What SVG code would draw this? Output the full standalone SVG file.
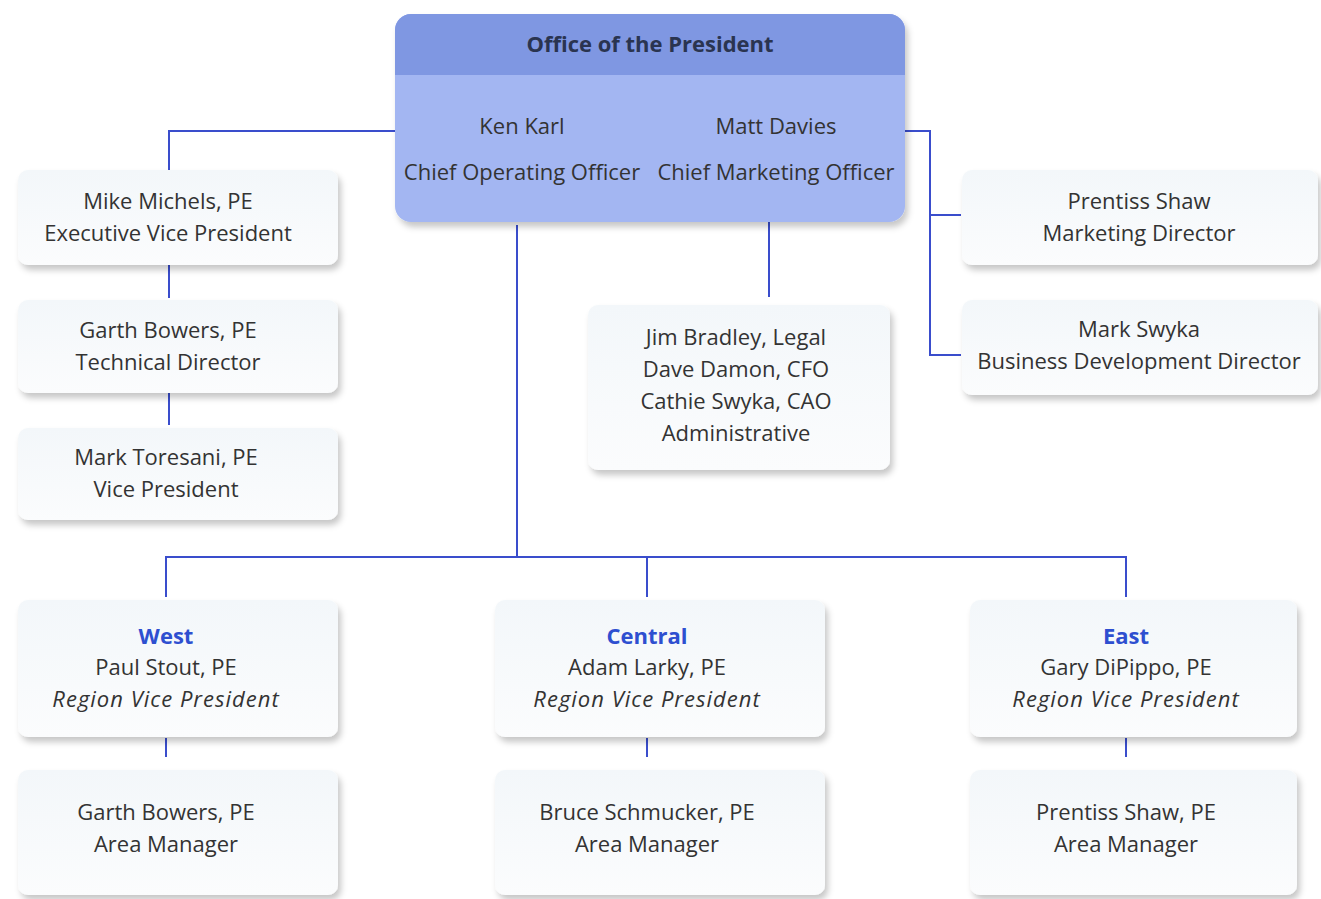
<svg xmlns="http://www.w3.org/2000/svg" width="1321" height="899" viewBox="0 0 1321 899">
<style>
text{font-family:"Open Sans","Noto Sans",sans-serif;font-size:22px;fill:#333;text-anchor:middle}
.h{font-weight:bold;fill:#2a3450}
.r{font-weight:bold;fill:#2e4fd0}
.i{font-style:italic;letter-spacing:1px}
.box{fill:url(#bg)}
.ln{stroke:#3a4dcc;stroke-width:2;fill:none}
</style>
<defs>
<linearGradient id="bg" x1="0" y1="0" x2="0" y2="1"><stop offset="0" stop-color="#f3f7fa"/><stop offset="1" stop-color="#fbfcfd"/></linearGradient>
<filter id="sh" x="-5%" y="-5%" width="115%" height="125%"><feDropShadow dx="3" dy="5" stdDeviation="3" flood-color="#000" flood-opacity="0.22"/></filter>
</defs>
<rect width="1321" height="899" fill="#fff"/>
<g id="connectors">
<path class="ln" d="M395 131H169V170"/>
<path class="ln" d="M169 265V298M169 393V425"/>
<path class="ln" d="M769 222V297"/>
<path class="ln" d="M905 131H930V355H961M930 215H961"/>
<path class="ln" d="M517 225V557M166 597V557H1126V597M647 557V597"/>
<path class="ln" d="M166 738V757M647 738V757M1126 738V757"/>
</g>
<g id="president">
<rect x="395" y="14" width="510" height="208" rx="16" fill="#a3b6f2" filter="url(#sh)"/>
<path d="M411 14H889A16 16 0 0 1 905 30V75H395V30A16 16 0 0 1 411 14Z" fill="#7f97e2"/>
<text class="h" x="650" y="52">Office of the President</text>
<text x="522" y="134">Ken Karl</text>
<text x="776" y="134">Matt Davies</text>
<text x="522" y="180">Chief Operating Officer</text>
<text x="776" y="180">Chief Marketing Officer</text>
</g>
<g id="michels"><rect class="box" x="18" y="170" width="320" height="95" rx="10" filter="url(#sh)"/><text x="168" y="209">Mike Michels, PE</text><text x="168" y="241">Executive Vice President</text></g>
<g id="bowers"><rect class="box" x="18" y="300" width="320" height="93" rx="10" filter="url(#sh)"/><text x="168" y="338">Garth Bowers, PE</text><text x="168" y="370">Technical Director</text></g>
<g id="toresani"><rect class="box" x="18" y="428" width="320" height="92" rx="10" filter="url(#sh)"/><text x="166" y="465">Mark Toresani, PE</text><text x="166" y="497">Vice President</text></g>
<g id="admin"><rect class="box" x="588" y="305" width="302" height="165" rx="10" filter="url(#sh)"/><text x="736" y="345">Jim Bradley, Legal</text><text x="736" y="377">Dave Damon, CFO</text><text x="736" y="409">Cathie Swyka, CAO</text><text x="736" y="441">Administrative</text></g>
<g id="shaw"><rect class="box" x="962" y="170" width="356" height="95" rx="10" filter="url(#sh)"/><text x="1139" y="209">Prentiss Shaw</text><text x="1139" y="241">Marketing Director</text></g>
<g id="swyka"><rect class="box" x="962" y="300" width="356" height="95" rx="10" filter="url(#sh)"/><text x="1139" y="337">Mark Swyka</text><text x="1139" y="369">Business Development Director</text></g>
<g id="west"><rect class="box" x="18" y="600" width="320" height="137" rx="10" filter="url(#sh)"/><text class="r" x="166" y="644">West</text><text x="166" y="675">Paul Stout, PE</text><text class="i" x="166" y="707">Region Vice President</text></g>
<g id="central"><rect class="box" x="495" y="600" width="330" height="137" rx="10" filter="url(#sh)"/><text class="r" x="647" y="644">Central</text><text x="647" y="675">Adam Larky, PE</text><text class="i" x="647" y="707">Region Vice President</text></g>
<g id="east"><rect class="box" x="970" y="600" width="327" height="137" rx="10" filter="url(#sh)"/><text class="r" x="1126" y="644">East</text><text x="1126" y="675">Gary DiPippo, PE</text><text class="i" x="1126" y="707">Region Vice President</text></g>
<g id="westarea"><rect class="box" x="18" y="770" width="320" height="125" rx="10" filter="url(#sh)"/><text x="166" y="820">Garth Bowers, PE</text><text x="166" y="852">Area Manager</text></g>
<g id="centralarea"><rect class="box" x="495" y="770" width="330" height="125" rx="10" filter="url(#sh)"/><text x="647" y="820">Bruce Schmucker, PE</text><text x="647" y="852">Area Manager</text></g>
<g id="eastarea"><rect class="box" x="970" y="770" width="327" height="125" rx="10" filter="url(#sh)"/><text x="1126" y="820">Prentiss Shaw, PE</text><text x="1126" y="852">Area Manager</text></g>
</svg>
